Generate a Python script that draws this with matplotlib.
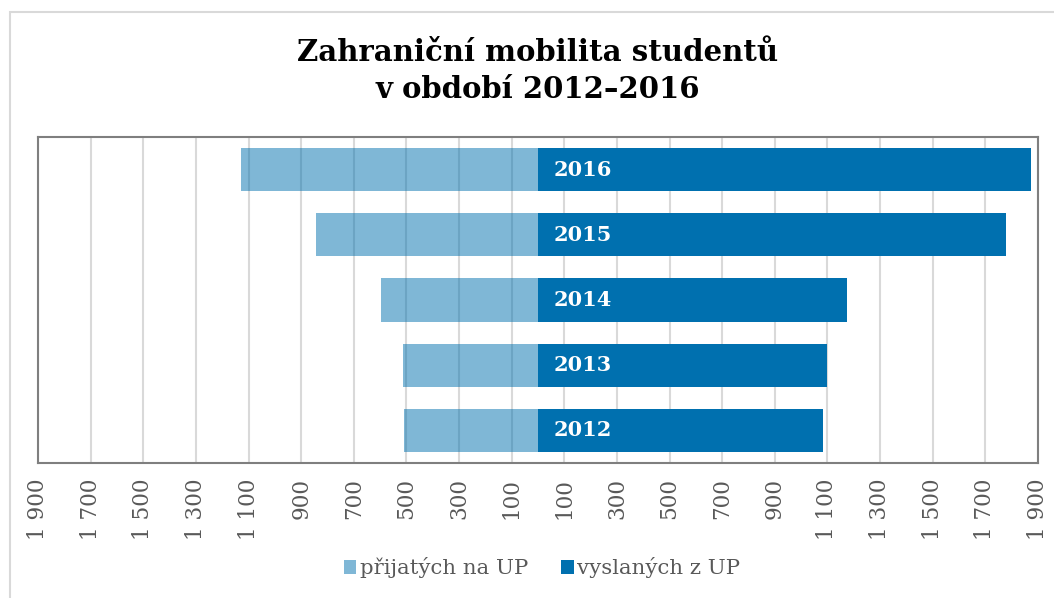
import matplotlib.pyplot as plt
from matplotlib.patches import Rectangle
from matplotlib.ticker import FuncFormatter

years = ['2012', '2013', '2014', '2015', '2016']
prijatych = [510, 514, 595, 843, 1128]
vyslanych = [1084, 1098, 1173, 1779, 1875]
ticks = list(range(-1900, 1901, 200))

DARK = '#0070AF'
SERIF = ['DejaVu Serif']

fig = plt.figure(figsize=(10.54, 5.98), dpi=100)
# outer chart border (light grey)
fig.patches.append(Rectangle((10 / 1054, -0.1), 1.2, 1.1 - 12 / 598,
                             transform=fig.transFigure, fill=False,
                             edgecolor='#d9d9d9', lw=1.5))

ax = fig.add_axes([38 / 1054, 1 - 463 / 598, 1000 / 1054, 326 / 598])
y = range(len(years))
ax.barh(y, [-v for v in prijatych], height=0.66, color=DARK, alpha=0.5,
        label='přijatých na UP', zorder=2)
ax.barh(y, vyslanych, height=0.66, color=DARK, label='vyslaných z UP', zorder=3)

for i, yr in enumerate(years):
    ax.text(60, i, yr, color='white', fontsize=15, fontweight='bold',
            family=SERIF, va='center', ha='left', zorder=4)

ax.set_xlim(-1900, 1900)
ax.set_ylim(-0.5, 4.5)
ax.set_xticks(ticks)
ax.xaxis.set_major_formatter(FuncFormatter(lambda v, p: f'{abs(int(v)):,}'.replace(',', ' ')))
ax.tick_params(axis='x', length=0, pad=11, labelrotation=90, labelsize=15.5,
               labelcolor='#595959')
for lab in ax.get_xticklabels():
    lab.set_family(SERIF)
ax.set_yticks([])
ax.grid(axis='x', color='#d9d9d9', lw=1.5, zorder=1)
ax.set_axisbelow(True)
for s in ax.spines.values():
    s.set_color('#7f7f7f')
    s.set_linewidth(1.5)

fig.text(0.51, 1 - 71 / 598, 'Zahraniční mobilita studentů\nv období 2012–2016',
         ha='center', va='center', fontsize=21, fontweight='bold',
         family=SERIF, linespacing=1.35)

leg = fig.legend(loc='center', bbox_to_anchor=(0.514, 1 - 568 / 598), ncol=2,
                 frameon=False, handlelength=0.6, handleheight=0.6,
                 handletextpad=0.15, columnspacing=1.55,
                 prop={'family': SERIF, 'size': 15.3})
for t in leg.get_texts():
    t.set_color('#595959')

fig.savefig('out.png', dpi=100)
